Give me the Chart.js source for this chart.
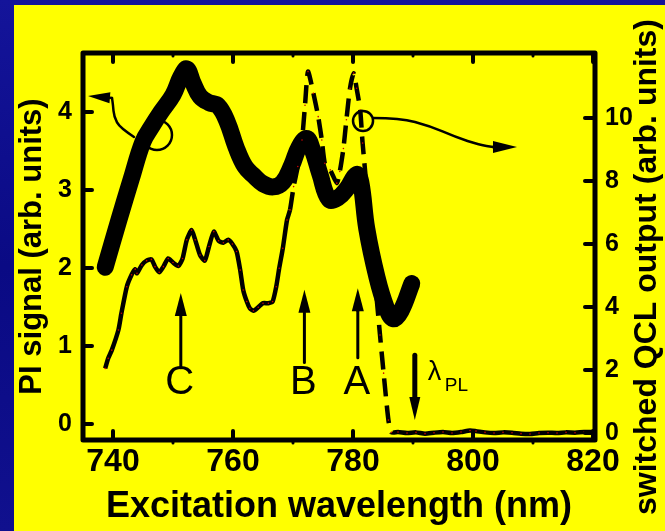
<!DOCTYPE html>
<html>
<head>
<meta charset="utf-8">
<script src="https://cdn.jsdelivr.net/npm/chart.js@4.4.0/dist/chart.umd.min.js"></script>
<style>
html, body { margin: 0; padding: 0; width: 665px; height: 531px; overflow: hidden; }
body { background: linear-gradient(180deg, #14149a 0%, #0a0a84 50%, #10108e 100%); position: relative; }
#panel { position: absolute; left: 14px; top: 5px; width: 651px; height: 526px; background: #ffff00; }
canvas { display: block; }
</style>
</head>
<body>
<div id="panel"><canvas id="chart" width="651" height="526"></canvas></div>
<script>
// PI signal (thick line, left axis)
const piWavelength = [738.7, 741.0, 743.0, 745.0, 746.5, 748.0, 750.0, 751.3, 752.3, 753.3, 754.5, 756.0, 757.5, 759.0, 760.5, 762.0, 763.5, 765.0, 766.7, 768.3, 769.8, 771.0, 772.3, 773.3, 774.5, 776.0, 777.5, 779.0, 780.6, 781.3, 782.3, 784.0, 785.5, 786.7, 788.0, 789.8];
const piSignal = [2.01, 2.62, 3.13, 3.62, 3.82, 4.0, 4.22, 4.45, 4.55, 4.38, 4.2, 4.12, 4.08, 3.88, 3.55, 3.3, 3.18, 3.08, 3.04, 3.1, 3.32, 3.55, 3.66, 3.5, 3.2, 2.88, 2.9, 3.02, 3.2, 3.1, 2.5, 1.88, 1.5, 1.35, 1.45, 1.8];

// switched QCL output (thin line, right axis)
const qclWavelength = [738.7, 739.2, 739.8, 740.9, 741.4, 742.3, 743.1, 743.7, 744.0, 744.8, 745.6, 746.4, 747.0, 747.7, 748.4, 749.2, 750.0, 750.9, 751.6, 752.3, 753.1, 753.7, 754.5, 755.3, 756.0, 756.8, 757.6, 758.4, 759.2, 759.9, 760.6, 761.2, 761.7, 762.3, 762.8, 763.4, 764.2, 765.0, 765.9, 766.6, 767.2, 767.7, 768.3, 769.0, 769.5, 770.1, 770.8, 771.5, 772.0, 772.5, 773.4, 774.2, 774.8, 775.3, 776.2, 777.3, 777.8, 778.4, 778.9, 779.5, 780.1, 780.6, 781.2, 781.6, 784.5, 785.1, 785.9, 786.4, 787.5, 789.0, 790.5, 792.0, 793.5, 795.0, 796.5, 798.0, 799.5, 800.5, 802.0, 803.5, 805.0, 806.5, 808.0, 809.5, 811.0, 812.5, 814.0, 815.5, 817.0, 818.5, 820.0];
const qclOutput = [2.05, 2.37, 2.63, 3.27, 3.8, 4.64, 5.02, 5.2, 5.07, 5.33, 5.47, 5.51, 5.28, 5.1, 5.28, 5.54, 5.41, 5.3, 5.54, 6.13, 6.44, 6.13, 5.65, 5.47, 5.92, 6.39, 6.1, 6.04, 6.13, 6.0, 5.76, 5.17, 4.54, 4.17, 3.96, 3.88, 3.99, 4.12, 4.12, 4.17, 4.64, 5.23, 5.86, 6.76, 7.08, 7.82, 8.46, 9.3, 10.4, 11.47, 10.78, 10.04, 9.3, 8.56, 8.35, 7.93, 8.3, 9.03, 9.94, 10.94, 11.42, 10.94, 10.25, 9.2, 3.11, 1.9, 0.41, 0.02, 0.03, 0.0, 0.02, -0.02, 0.01, 0.03, 0.0, 0.03, 0.08, 0.06, 0.02, 0.0, 0.02, 0.01, -0.02, -0.03, 0.0, 0.01, 0.0, 0.02, 0.01, 0.03, 0.03];
const qclDashFrom = 769.4;
const qclDashTo = 786.5;

// axes
const xTicks = [740, 760, 780, 800, 820];
const xMinorTicks = [750, 770, 790, 810];
const piTicks = [0, 1, 2, 3, 4];
const qclTicks = [0, 2, 4, 6, 8, 10];

// peak markers (nm, left-axis units)
const peakLabels = ['C', 'B', 'A'];
const peakWavelength = [751.3, 771.9, 780.8];
const peakArrowTip = [1.68, 1.72, 1.74];
const peakArrowTail = [0.72, 0.79, 0.85];
const peakLabelY = 0.52;
const plWavelength = 790.3;
const plArrow = [0.88, 0.05];

// callouts: circle on curve + arrow to its axis (nm, left-axis units)
const leftCallout = [[743.5, 3.68], [741.17, 3.795], [740.17, 3.936], [740.0, 4.09], [739.83, 4.18]];
const leftCalloutCircle = [747.33, 3.705];
const leftCalloutTip = [735.83, 4.205];
const rightCallout = [[783.33, 3.923], [787.83, 3.923], [792.83, 3.82], [797.0, 3.68], [801.17, 3.577], [803.33, 3.551]];
const rightCalloutCircle = [781.67, 3.885];
const rightCalloutTip = [807.33, 3.551];

const FONT = '"Liberation Sans", Arial, sans-serif';

function drawArrow(ctx, x0, y0, x1, y1, w, headLen, headHalf) {
    const ang = Math.atan2(y1 - y0, x1 - x0);
    const bx = x1 - headLen * Math.cos(ang), by = y1 - headLen * Math.sin(ang);
    ctx.lineWidth = w;
    ctx.lineCap = 'round';
    ctx.beginPath();
    ctx.moveTo(x0, y0);
    ctx.lineTo(bx, by);
    ctx.stroke();
    ctx.beginPath();
    ctx.moveTo(x1, y1);
    ctx.lineTo(bx + headHalf * Math.sin(ang), by - headHalf * Math.cos(ang));
    ctx.lineTo(bx - headHalf * Math.sin(ang), by + headHalf * Math.cos(ang));
    ctx.closePath();
    ctx.fill();
}

function smoothPath(ctx, pts) {
    ctx.beginPath();
    ctx.moveTo(pts[0][0], pts[0][1]);
    for (let i = 1; i < pts.length - 1; i++) {
        const mx = (pts[i][0] + pts[i + 1][0]) / 2, my = (pts[i][1] + pts[i + 1][1]) / 2;
        ctx.quadraticCurveTo(pts[i][0], pts[i][1], mx, my);
    }
    const last = pts[pts.length - 1];
    ctx.lineTo(last[0], last[1]);
    ctx.stroke();
}

const decorations = {
    id: 'decorations',
    afterDraw(chart) {
        const { ctx, chartArea: a, scales } = chart;
        const x = scales.x, y = scales.y, y2 = scales.y2;
        const px = v => x.getPixelForValue(v);
        const py = v => y.getPixelForValue(v);
        ctx.save();
        ctx.strokeStyle = '#000';
        ctx.fillStyle = '#000';

        // frame
        ctx.lineWidth = 5;
        ctx.lineJoin = 'round';
        ctx.strokeRect(a.left, a.top, a.right - a.left, a.bottom - a.top);

        // ticks
        ctx.lineWidth = 4;
        ctx.lineCap = 'round';
        const seg = (x0, y0, x1, y1) => { ctx.beginPath(); ctx.moveTo(x0, y0); ctx.lineTo(x1, y1); ctx.stroke(); };
        xTicks.forEach(v => { const p = px(v); seg(p, a.bottom, p, a.bottom - 9); seg(p, a.top, p, a.top + 9); });
        ctx.lineWidth = 3;
        xMinorTicks.forEach(v => { const p = px(v); seg(p, a.bottom, p, a.bottom + 3); seg(p, a.top, p, a.top + 3); });
        ctx.lineWidth = 4;
        piTicks.forEach(v => { const p = py(v); seg(a.left, p, a.left + 9, p); });
        qclTicks.forEach(v => { const p = y2.getPixelForValue(v); seg(a.right, p, a.right - 10, p); });

        // peak arrows and letters
        ctx.font = '40px ' + FONT;
        ctx.textAlign = 'center';
        ctx.textBaseline = 'middle';
        peakLabels.forEach((lab, i) => {
            const p = px(peakWavelength[i]);
            drawArrow(ctx, p, py(peakArrowTail[i]), p, py(peakArrowTip[i]), 3, 23, 6);
            ctx.fillText(lab, p - 1, py(peakLabelY));
        });

        // lambda_PL arrow and label
        const pl = px(plWavelength);
        drawArrow(ctx, pl, py(plArrow[0]), pl, py(plArrow[1]), 5, 23, 5.5);
        ctx.textAlign = 'left';
        ctx.font = '27px ' + FONT;
        ctx.fillText('\u03bb', pl + 13, py(0.665));
        ctx.font = '19px ' + FONT;
        ctx.fillText('PL', pl + 30, py(0.485));

        // callouts
        ctx.lineWidth = 2.5;
        ctx.beginPath();
        ctx.arc(px(leftCalloutCircle[0]), py(leftCalloutCircle[1]), 15, 0, Math.PI * 2);
        ctx.stroke();
        smoothPath(ctx, leftCallout.map(p => [px(p[0]), py(p[1])]));
        const lEnd = leftCallout[leftCallout.length - 1];
        drawArrow(ctx, px(lEnd[0]), py(lEnd[1]), px(leftCalloutTip[0]), py(leftCalloutTip[1]), 2.5, 22, 5.5);

        ctx.lineWidth = 2.5;
        ctx.beginPath();
        ctx.arc(px(rightCalloutCircle[0]), py(rightCalloutCircle[1]), 10, 0, Math.PI * 2);
        ctx.stroke();
        smoothPath(ctx, rightCallout.map(p => [px(p[0]), py(p[1])]));
        const rEnd = rightCallout[rightCallout.length - 1];
        drawArrow(ctx, px(rEnd[0]), py(rEnd[1]), px(rightCalloutTip[0]), py(rightCalloutTip[1]), 2.5, 24, 6);

        // right axis title (reads bottom to top)
        ctx.save();
        ctx.translate(633, 262);
        ctx.rotate(-Math.PI / 2);
        ctx.font = 'bold 32px ' + FONT;
        ctx.textAlign = 'center';
        ctx.textBaseline = 'middle';
        ctx.fillText('switched QCL output (arb. units)', 0, 0);
        ctx.restore();

        ctx.restore();
    }
};

const ctx = document.getElementById('chart').getContext('2d');
new Chart(ctx, {
    type: 'line',
    data: {
        datasets: [{
            label: 'switched QCL output',
            data: qclWavelength.map((w, i) => ({ x: w, y: qclOutput[i] })),
            yAxisID: 'y2',
            borderColor: '#000',
            borderWidth: 4.5,
            tension: 0.2,
            pointRadius: 0.8,
            pointBorderWidth: 0,
            pointBackgroundColor: '#cc0000',
            segment: {
                borderDash: c => (c.p0.parsed.x >= qclDashFrom && c.p1.parsed.x <= qclDashTo) ? [18, 9] : undefined
            }
        }, {
            label: 'PI signal',
            data: piWavelength.map((w, i) => ({ x: w, y: piSignal[i] })),
            yAxisID: 'y',
            borderColor: '#000',
            borderWidth: 17,
            borderCapStyle: 'round',
            borderJoinStyle: 'round',
            tension: 0.4,
            pointRadius: 0
        }]
    },
    options: {
        responsive: false,
        animation: false,
        layout: { padding: { top: 48, left: 0, right: 0, bottom: 0 } },
        plugins: { legend: { display: false }, tooltip: { enabled: false } },
        scales: {
            x: {
                type: 'linear',
                min: 735,
                max: 820.33,
                afterFit: s => { s.height = 91; },
                afterBuildTicks: s => { s.ticks = xTicks.map(v => ({ value: v })); },
                grid: { display: false, drawTicks: false },
                border: { display: false },
                ticks: { color: '#000', padding: 3, maxRotation: 0, autoSkip: false, font: { family: FONT, size: 32, weight: 'bold' } },
                title: { display: true, text: 'Excitation wavelength (nm)', color: '#000', padding: { top: 0, bottom: 2 }, font: { family: FONT, size: 36, weight: 'bold' } }
            },
            y: {
                position: 'left',
                min: -0.205,
                max: 4.756,
                afterFit: s => { s.width = 69; },
                afterBuildTicks: s => { s.ticks = piTicks.map(v => ({ value: v })); },
                grid: { display: false, drawTicks: false },
                border: { display: false },
                ticks: { color: '#000', padding: 11, font: { family: FONT, size: 25, weight: 'bold' } },
                title: { display: true, text: 'PI signal (arb. units)', color: '#000', padding: { top: 0, bottom: 0 }, font: { family: FONT, size: 31, weight: 'bold' } }
            },
            y2: {
                position: 'right',
                min: -0.222,
                max: 12.06,
                afterFit: s => { s.width = 70; },
                afterBuildTicks: s => { s.ticks = qclTicks.map(v => ({ value: v })); },
                grid: { display: false, drawTicks: false },
                border: { display: false },
                ticks: { color: '#000', padding: 10, font: { family: FONT, size: 25, weight: 'bold' } }
            }
        }
    },
    plugins: [decorations]
});
</script>
</body>
</html>
